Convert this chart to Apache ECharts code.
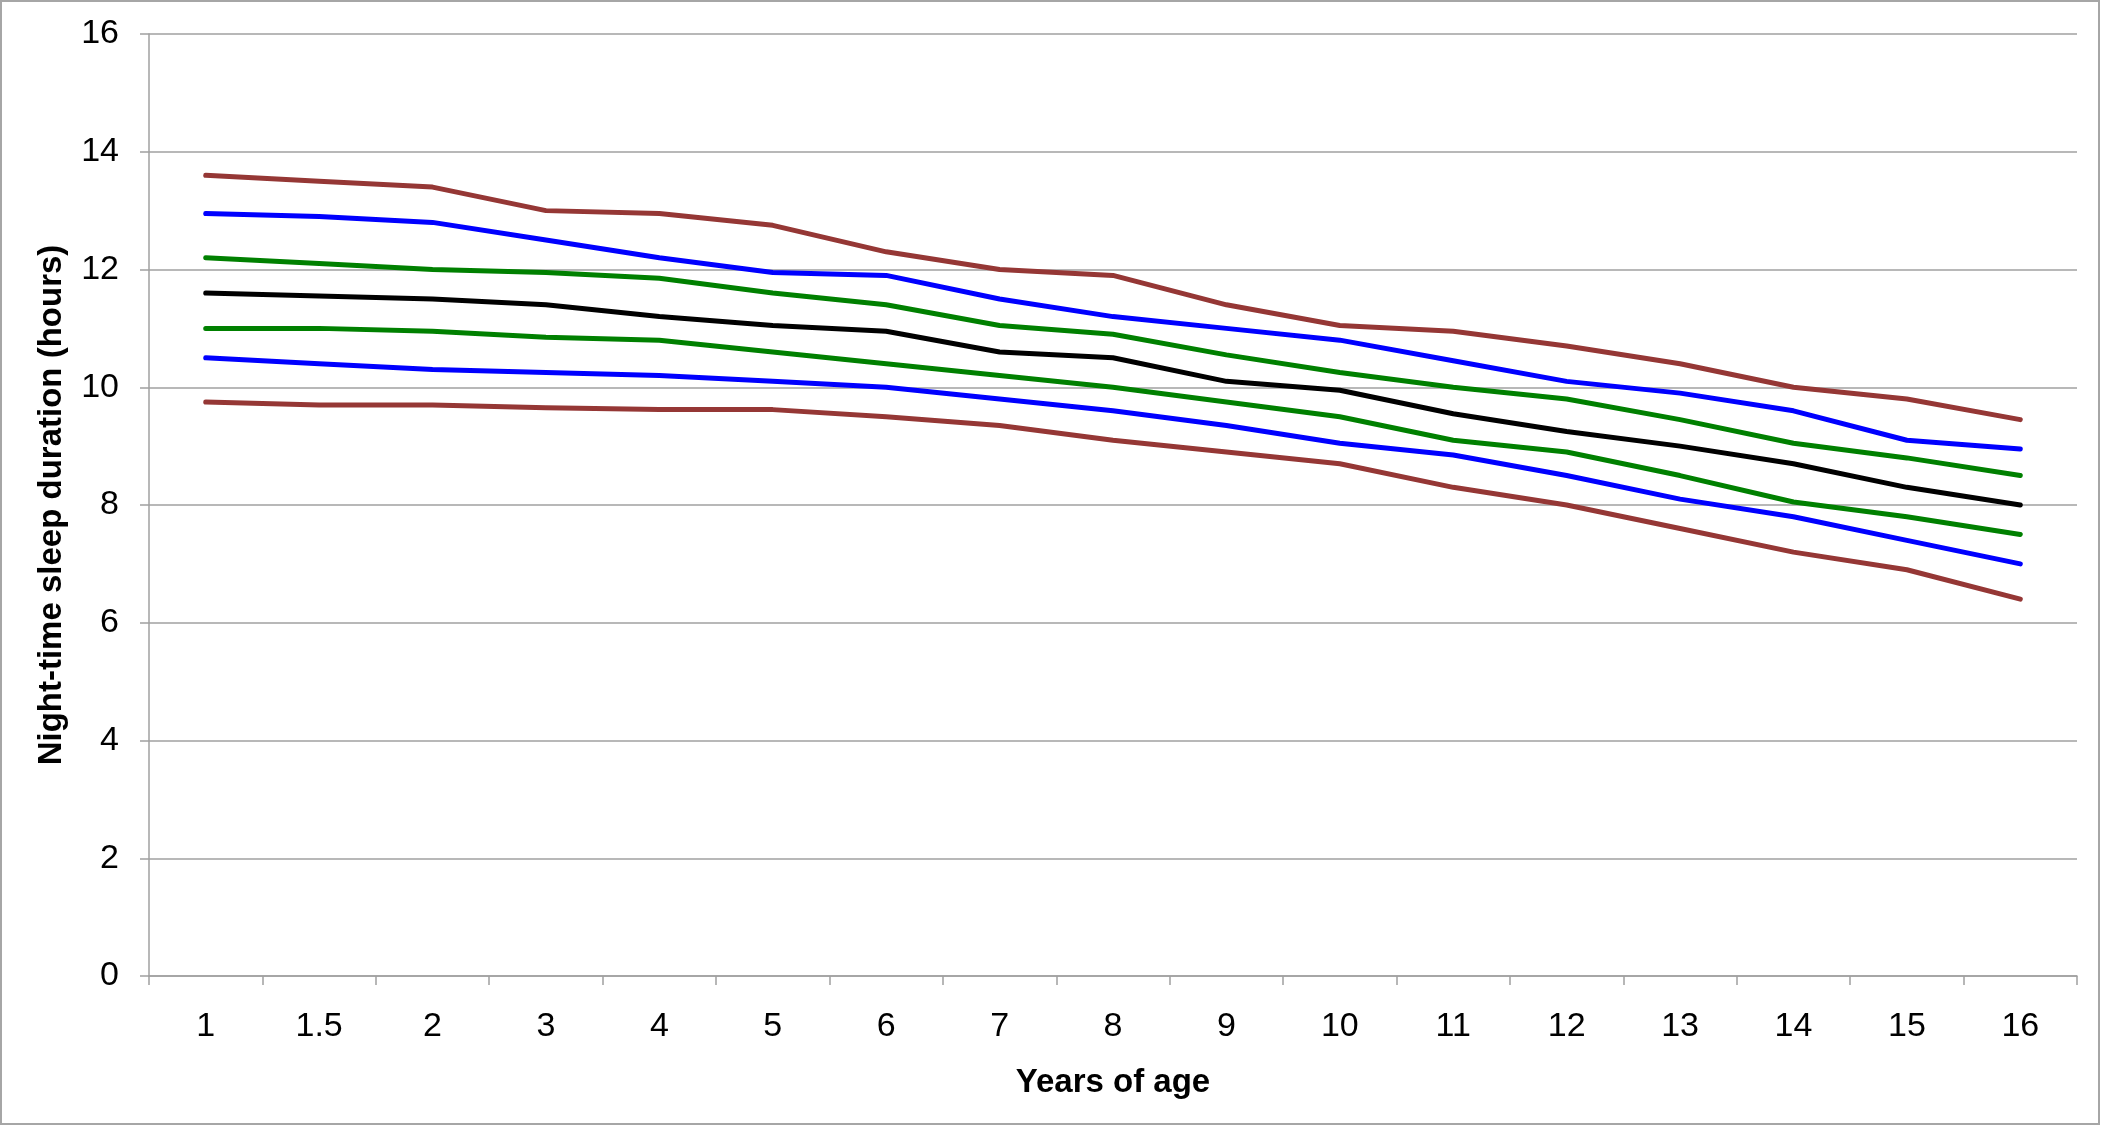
<!DOCTYPE html>
<html>
<head>
<meta charset="utf-8">
<script src="https://cdn.jsdelivr.net/npm/echarts@6/dist/echarts.min.js"></script>
<style>
html,body{margin:0;padding:0;background:#fff;}
#chart{width:2102px;height:1128px;}
</style>
</head>
<body>
<div id="chart"></div>
<script>
const categories = ['1','1.5','2','3','4','5','6','7','8','9','10','11','12','13','14','15','16'];
const yTicks = [0,2,4,6,8,10,12,14,16];

const brownTop   = [13.6,13.5,13.4,13.0,12.95,12.75,12.3,12.0,11.9,11.4,11.05,10.95,10.7,10.4,10.0,9.8,9.45];
const blueTop    = [12.95,12.9,12.8,12.5,12.2,11.95,11.9,11.5,11.2,11.0,10.8,10.45,10.1,9.9,9.6,9.1,8.95];
const greenTop   = [12.2,12.1,12.0,11.95,11.85,11.6,11.4,11.05,10.9,10.55,10.25,10.0,9.8,9.45,9.05,8.8,8.5];
const median     = [11.6,11.55,11.5,11.4,11.2,11.05,10.95,10.6,10.5,10.1,9.95,9.55,9.25,9.0,8.7,8.3,8.0];
const greenLow   = [11.0,11.0,10.95,10.85,10.8,10.6,10.4,10.2,10.0,9.75,9.5,9.1,8.9,8.5,8.05,7.8,7.5];
const blueLow    = [10.5,10.4,10.3,10.25,10.2,10.1,10.0,9.8,9.6,9.35,9.05,8.85,8.5,8.1,7.8,7.4,7.0];
const brownLow   = [9.75,9.7,9.7,9.65,9.62,9.62,9.5,9.35,9.1,8.9,8.7,8.3,8.0,7.6,7.2,6.9,6.4];

const BROWN = '#953735', BLUE = '#0000ff', GREEN = '#008000', BLACK = '#000000';
const seriesList = [
  {name:'P98', data:brownTop, color:BROWN},
  {name:'P90', data:blueTop, color:BLUE},
  {name:'P75', data:greenTop, color:GREEN},
  {name:'P50', data:median, color:BLACK},
  {name:'P25', data:greenLow, color:GREEN},
  {name:'P10', data:blueLow, color:BLUE},
  {name:'P2',  data:brownLow, color:BROWN}
];

const FONT = '"Liberation Sans", Arial, sans-serif';
const chart = echarts.init(document.getElementById('chart'), null, {renderer:'canvas'});
chart.setOption({
  backgroundColor:'#ffffff',
  animation:false,
  graphic:[{
    type:'rect', shape:{x:1,y:1,width:2098,height:1123},
    style:{fill:'none', stroke:'#a6a6a6', lineWidth:2}, z:-1
  }],
  grid:{left:149, top:34, width:1928, height:942, containLabel:false},
  xAxis:{
    type:'category',
    data:categories,
    boundaryGap:true,
    name:'Years of age',
    nameLocation:'middle',
    nameGap:90,
    nameTextStyle:{fontFamily:FONT, fontSize:33, fontWeight:'bold', color:'#000'},
    axisLine:{show:true, lineStyle:{color:'#a0a0a0', width:1.5}},
    axisTick:{show:true, length:9, lineStyle:{color:'#a0a0a0', width:1.5}},
    axisLabel:{fontFamily:FONT, fontSize:34, color:'#000', margin:34}
  },
  yAxis:{
    type:'value',
    min:yTicks[0], max:yTicks[yTicks.length-1], interval:2,
    name:'Night-time sleep duration (hours)',
    nameLocation:'middle',
    nameGap:81,
    nameTextStyle:{fontFamily:FONT, fontSize:33, fontWeight:'bold', color:'#000'},
    axisLine:{show:true, lineStyle:{color:'#a0a0a0', width:1.5}},
    axisTick:{show:true, length:9, lineStyle:{color:'#a0a0a0', width:1.5}},
    splitLine:{show:true, lineStyle:{color:'#a0a0a0', width:1.5}},
    axisLabel:{fontFamily:FONT, fontSize:34, color:'#000', margin:30}
  },
  series:seriesList.map(s=>({
    name:s.name, type:'line', data:s.data, symbol:'none', smooth:false,
    lineStyle:{color:s.color, width:5, cap:'round', join:'round'},
    itemStyle:{color:s.color}
  }))
});
</script>
</body>
</html>
